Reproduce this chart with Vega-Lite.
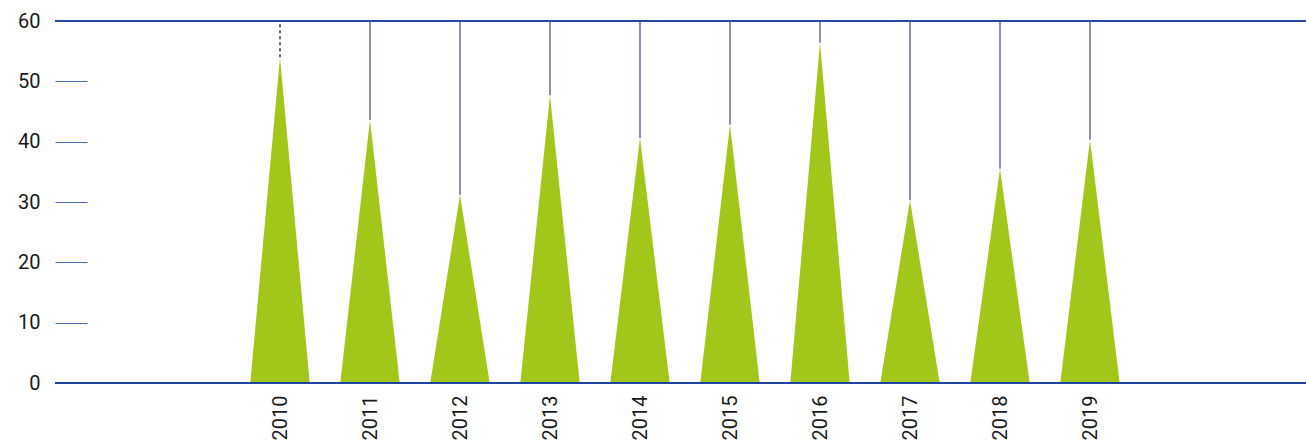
{
  "$schema": "https://vega.github.io/schema/vega-lite/v6.json",
  "width": 1251,
  "height": 362,
  "autosize": {"type": "none"},
  "padding": {"left": 55, "top": 21, "right": 0, "bottom": 58},
  "background": "white",
  "config": {
    "view": {"stroke": null},
    "font": "Roboto",
    "axis": {"labelFont": "Roboto", "labelFontSize": 20, "labelColor": "#1a1a1a"}
  },
  "data": {
    "values": [
      {"year": 2010, "value": 54.0},
      {"year": 2011, "value": 43.6},
      {"year": 2012, "value": 31.2},
      {"year": 2013, "value": 47.7},
      {"year": 2014, "value": 40.6},
      {"year": 2015, "value": 42.8},
      {"year": 2016, "value": 56.4},
      {"year": 2017, "value": 30.3},
      {"year": 2018, "value": 35.5},
      {"year": 2019, "value": 40.3}
    ]
  },
  "layer": [
    {
      "transform": [
        {"calculate": "[-1, 0, 1]", "as": "k"},
        {"flatten": ["k"]},
        {"calculate": "datum.year + datum.k * 0.33", "as": "xv"},
        {"calculate": "datum.k == 0 ? datum.value : 0", "as": "yv"}
      ],
      "mark": {"type": "area", "color": "#a3c61a", "interpolate": "linear"},
      "encoding": {
        "x": {
          "field": "xv", "type": "quantitative",
          "scale": {"domain": [2007.5, 2021.4], "nice": false, "zero": false},
          "axis": {
            "values": [2010, 2011, 2012, 2013, 2014, 2015, 2016, 2017, 2018, 2019],
            "format": "d", "labelAngle": -90, "labelAlign": "right", "labelBaseline": "middle",
            "domain": false, "ticks": false, "grid": false, "labelPadding": 12, "title": null
          }
        },
        "y": {
          "field": "yv", "type": "quantitative", "stack": null,
          "scale": {"domain": [0, 60], "nice": false},
          "axis": {
            "values": [0, 10, 20, 30, 40, 50, 60],
            "domain": false, "grid": false, "ticks": true, "tickSize": -32,
            "tickColor": "#4a6db5", "tickWidth": 1.2, "labelPadding": 47, "title": null
          }
        },
        "detail": {"field": "year", "type": "nominal"}
      }
    },
    {
      "transform": [{"filter": "datum.year != 2010"}],
      "mark": {"type": "rule", "color": "#4b56a0", "strokeWidth": 1.3},
      "encoding": {
        "x": {"field": "year", "type": "quantitative"},
        "y": {"field": "value", "type": "quantitative"},
        "y2": {"datum": 60}
      }
    },
    {
      "transform": [{"filter": "datum.year == 2010"}],
      "mark": {"type": "rule", "color": "#111111", "strokeWidth": 1.3, "strokeDash": [3, 3]},
      "encoding": {
        "x": {"field": "year", "type": "quantitative"},
        "y": {"field": "value", "type": "quantitative"},
        "y2": {"datum": 60}
      }
    },
    {
      "mark": {"type": "rule", "color": "#2a4a9c", "strokeWidth": 1.3},
      "encoding": {"y": {"datum": 60}}
    },
    {
      "mark": {"type": "rule", "color": "#1f44a0", "strokeWidth": 1.5},
      "encoding": {"y": {"datum": 0}}
    }
  ]
}
